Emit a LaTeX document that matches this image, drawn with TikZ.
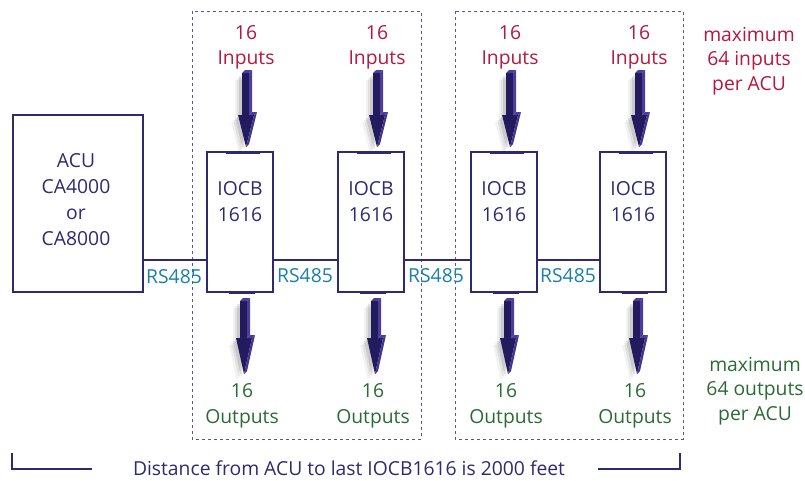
\documentclass[tikz,border=0pt]{standalone}
\usepackage{fontspec}
\setmainfont{Open Sans}
\definecolor{navy}{HTML}{2E2A72}
\definecolor{dashc}{HTML}{5A5690}
\definecolor{crimson}{HTML}{B5173F}
\definecolor{leaf}{HTML}{2A6B33}
\definecolor{rsteal}{HTML}{1A80A8}
\definecolor{arrowdark}{HTML}{221B5E}
\definecolor{arrowlight}{HTML}{4B3D99}
\newcommand\blockarrow[4]{%
  \foreach \d/\o in {7/0.05,5/0.07,3/0.10}{
    \fill[black,opacity=\o] ({#1-4-\d},{#2+\d}) -- ({#1+3-\d},{#2+\d}) -- ({#1+3-\d},{#3+\d}) -- ({#1+8-\d},{#3+\d}) -- ({#1-\d},{#4+\d}) -- ({#1-8-\d},{#3+\d}) -- ({#1-4-\d},{#3+\d}) -- cycle;}
  \fill[arrowdark] ({#1-4},#2) -- ({#1+3},#2) -- ({#1+3},#3) -- ({#1+8},#3) -- (#1,#4) -- ({#1-8},#3) -- ({#1-4},#3) -- cycle;
  \fill[arrowlight] ({#1-4},#2) -- ({#1+3},#2) -- ({#1+6},{#2-3}) -- ({#1-1},{#2-3}) -- cycle;
  \fill[arrowlight] ({#1+3},#2) -- ({#1+6},{#2-3}) -- ({#1+6},{#3-3}) -- ({#1+3},#3) -- cycle;
  \fill[arrowlight] ({#1+3},#3) -- ({#1+6},{#3-3}) -- ({#1+11},{#3-3}) -- ({#1+8},#3) -- cycle;
  \fill[arrowlight!80!arrowdark] ({#1+8},#3) -- ({#1+11},{#3-3}) -- ({#1+3},{#4-3}) -- (#1,#4) -- cycle;
}
\begin{document}
\begin{tikzpicture}[x=1pt,y=-1pt,
  txt/.style={font=\fontsize{19.3}{25.5}\selectfont,align=center,inner sep=0pt},
  unit/.style={draw=navy,line width=1.4pt,minimum width=66pt,minimum height=140pt,inner sep=0pt},
  bus/.style={draw=navy,line width=2pt},
  rs/.style={txt,text=rsteal,font=\fontsize{19.3}{22}\selectfont}]
\useasboundingbox (0,0) rectangle (805,480);
% dashed groups
\draw[dashc,line width=1pt,dash pattern=on 3pt off 3pt] (192,11) rectangle (421,439);
\draw[dashc,line width=1pt,dash pattern=on 3pt off 3pt] (455,11) rectangle (683,439);
% ACU
\node[draw=navy,line width=2.2pt,minimum width=130pt,minimum height=177pt,inner sep=0pt] (acu) at (78,203.5) {};
\node[txt,text=navy,font=\fontsize{19.3}{26}\selectfont] (acut) at (76,200) {ACU\\CA4000\\or\\CA8000};
\coordinate (busy) at (0,260);
% units
\foreach \n/\cx in {1/240,2/371,3/504,4/633}{
  \node[unit] (io\n) at (\cx,222) {};
  \node[txt,text=navy,font=\fontsize{19.3}{26}\selectfont] (iot\n) at (\cx,202) {IOCB\\1616};
  \draw[navy,line width=3pt] ({\cx-14},152) -- ({\cx+20},152);
  \draw[navy,line width=3pt] ({\cx-11},292) -- ({\cx+15},292);
  \blockarrow{\cx+6}{73}{115}{147}
  \blockarrow{\cx+4}{301}{338}{374}
  \node[txt,text=crimson] (in\n) at (\cx+6,47.5) {16\\Inputs};
  \node[txt,text=leaf] (out\n) at (\cx+2,406) {16\\Outputs};
}
% bus
\draw[bus] (acu.east |- busy) -- (io1.west |- busy);
\draw[bus] (io1.east |- busy) -- (io2.west |- busy);
\draw[bus] (io2.east |- busy) -- (io3.west |- busy);
\draw[bus] (io3.east |- busy) -- (io4.west |- busy);
\node[rs] (rs1) at (174,277) {RS485};
\node[rs] (rs2) at (305,276) {RS485};
\node[rs] (rs3) at (436,276) {RS485};
\node[rs] (rs4) at (568,276) {RS485};
% notes
\node[txt,text=crimson,font=\fontsize{19.3}{24.5}\selectfont] (maxin) at (749,61) {maximum\\64 inputs\\per ACU};
\node[txt,text=leaf,font=\fontsize{19.3}{24.5}\selectfont] (maxout) at (755,391) {maximum\\64 outputs\\per ACU};
% bottom
\node[txt,text=navy] (dist) at (349,468) {Distance from ACU to last IOCB1616 is 2000 feet};
\coordinate (bl) at (12,453);
\coordinate (br) at (680,453);
\draw[navy,line width=1.2pt] (bl) -- (12,469) -- (92,469);
\draw[navy,line width=1.2pt] (598,469) -- (680,469) -- (br);
\end{tikzpicture}
\end{document}
